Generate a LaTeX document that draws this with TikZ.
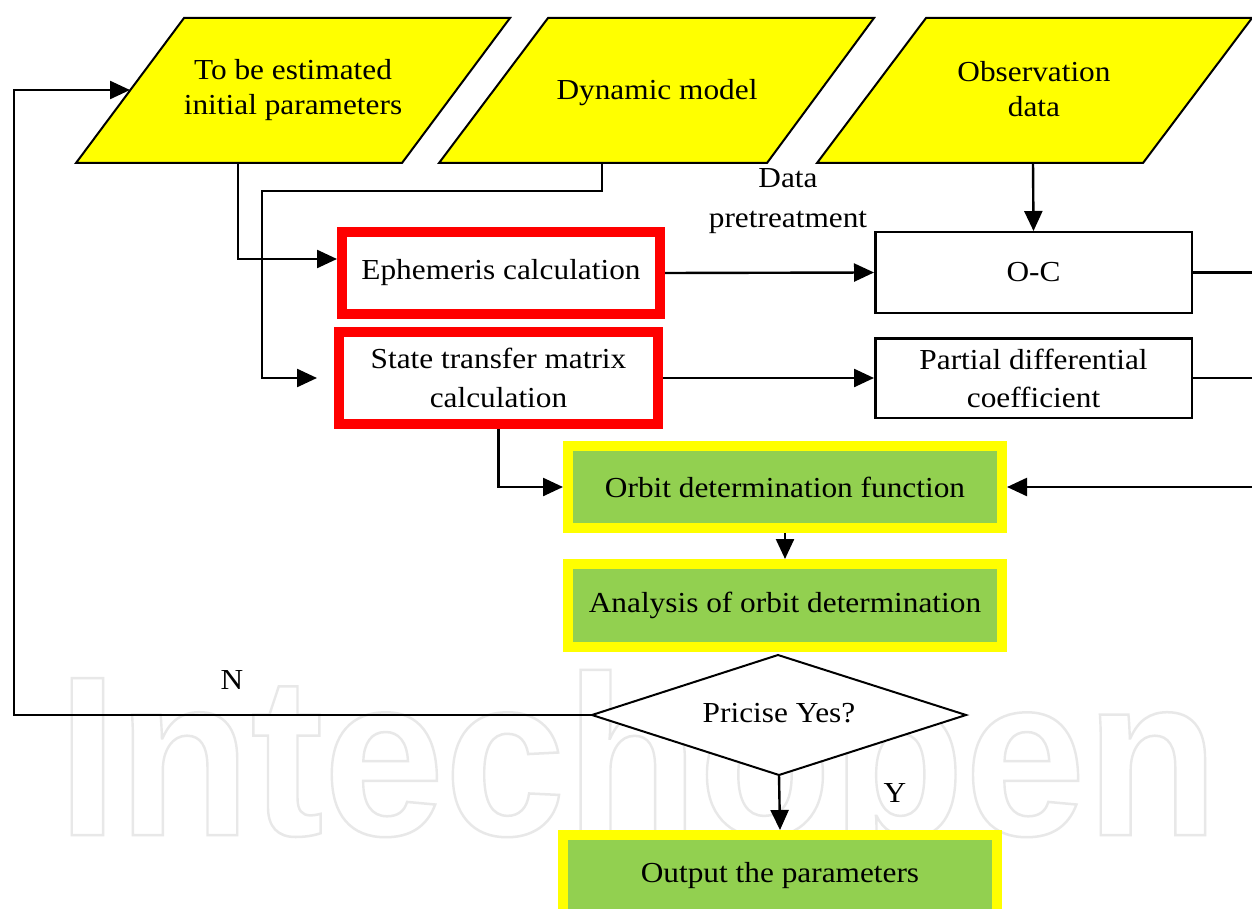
\documentclass[tikz,border=0pt]{standalone}
\usepackage{fontspec}
\setmainfont{Liberation Serif}[FakeStretch=1.08]
\newfontfamily\wmfont{Liberation Sans}
\usetikzlibrary{arrows.meta}
\definecolor{ygreen}{HTML}{92D050}
\definecolor{yel}{HTML}{FFFF00}
\definecolor{wmgray}{HTML}{E8E8E8}
\newcommand{\outlinetext}[1]{\special{pdf:literal direct 1 Tr 2.5 w}#1\special{pdf:literal direct 0 Tr 1 w}}
\begin{document}
\begin{tikzpicture}[x=1pt,y=-1pt,
  txt/.style={font=\fontsize{29}{38}\selectfont, align=center, inner sep=0pt},
  conn/.style={line width=2.4pt, -{Triangle[length=20pt,width=18pt]}},
  plainline/.style={line width=2.4pt},
  para/.style={draw, line width=2pt, fill=yel, line join=miter},
  redbox/.style={txt, draw=red, line width=10pt, fill=white},
  plainbox/.style={txt, draw, line width=2.5pt, fill=white},
  greenbox/.style={txt, draw=yel, line width=10pt, fill=ygreen},
  wm/.style={anchor=base west, inner sep=0pt, xscale=0.955, font=\wmfont\bfseries\fontsize{228}{228}\selectfont},
]
\useasboundingbox (0,0) rectangle (1252,909);
\clip (0,0) rectangle (1252,909);
\fill[white] (0,0) rectangle (1252,909);

% watermark (outlined)
\node[wm, text=wmgray] (wmark) at (57,835) {\outlinetext{Intechopen}};

% input parallelograms
\draw[para] (76,163) -- (184,18) -- (510,18) -- (402,163) -- cycle;
\node[txt, font=\fontsize{29}{35}\selectfont] (p1) at (293,90) {To be estimated\\initial parameters};
\draw[para] (439,163) -- (548,18) -- (874,18) -- (767,163) -- cycle;
\node[txt] (p2) at (657,93) {Dynamic model};
\draw[para] (817,163) -- (926,18) -- (1252,18) -- (1143,163) -- cycle;
\node[txt, font=\fontsize{29}{35}\selectfont] (p3) at (1034,89) {Observation\\data};
\coordinate (p1w) at (130,90);
\coordinate (p1b) at (238,163);
\coordinate (p2b) at (602,163);
\coordinate (p3b) at (1033,163);

% process boxes
\node[redbox, minimum width=318pt, minimum height=82pt] (eph) at (501,273) {Ephemeris calculation};
\node[redbox, minimum width=319pt, minimum height=92pt, font=\fontsize{29}{39}\selectfont] (st) at (498.5,378) {State transfer matrix\\calculation};
\node[plainbox, minimum width=316.5pt, minimum height=80.5pt] (oc) at (1033.5,272.5) {O-C};
\node[plainbox, minimum width=316.5pt, minimum height=79.5pt] (pd) at (1033.5,378) {Partial differential\\coefficient};
\node[greenbox, minimum width=434pt, minimum height=82pt] (orb) at (785,487) {Orbit determination function};
\node[greenbox, minimum width=434pt, minimum height=83pt] (ana) at (785,605.5) {Analysis of orbit determination};
\node[greenbox, minimum width=434pt, minimum height=82pt] (out) at (780,876) {Output the parameters};

% decision
\coordinate (dl) at (592,715);
\coordinate (dt) at (778,655);
\coordinate (dr) at (966,715);
\coordinate (db) at (779,775);
\draw[line width=2pt, fill=white] (dl) -- (dt) -- (dr) -- (db) -- cycle;
\node[txt] (dec) at (779,713) {Pricise Yes?};

% labels
\node[txt, font=\fontsize{29}{40}\selectfont] (dp) at (788,201) {Data\\pretreatment};
\node[txt] (nlab) at (232,680) {N};
\node[txt] (ylab) at (895,793) {Y};

% connectors
\coordinate (rt) at (1262,272.5);
\coordinate (rb) at (1262,487);
\draw[conn] (dl) -- (14,715) -- (14,90) -- (p1w);
\draw[conn] (p1b) |- ([yshift=14pt]eph.west);
\draw[conn] (p2b) -- (602,191) -- (262,191) |- ([xshift=-17pt]st.west);
\draw[conn] (p3b) -- (oc.north);
\draw[conn] (eph.east) -- (oc.west);
\draw[conn] (st.east) -- (pd.west);
\draw[plainline] (oc.east) -- (rt) -- (rb);
\draw[plainline] (pd.east) -- (pd.east -| rt);
\draw[conn] (rb) -- (orb.east);
\draw[conn] (st.south) |- (orb.west);
\draw[conn] (orb.south) -- (ana.north);
\draw[conn] (db) -- (out.north);
\end{tikzpicture}
\end{document}
